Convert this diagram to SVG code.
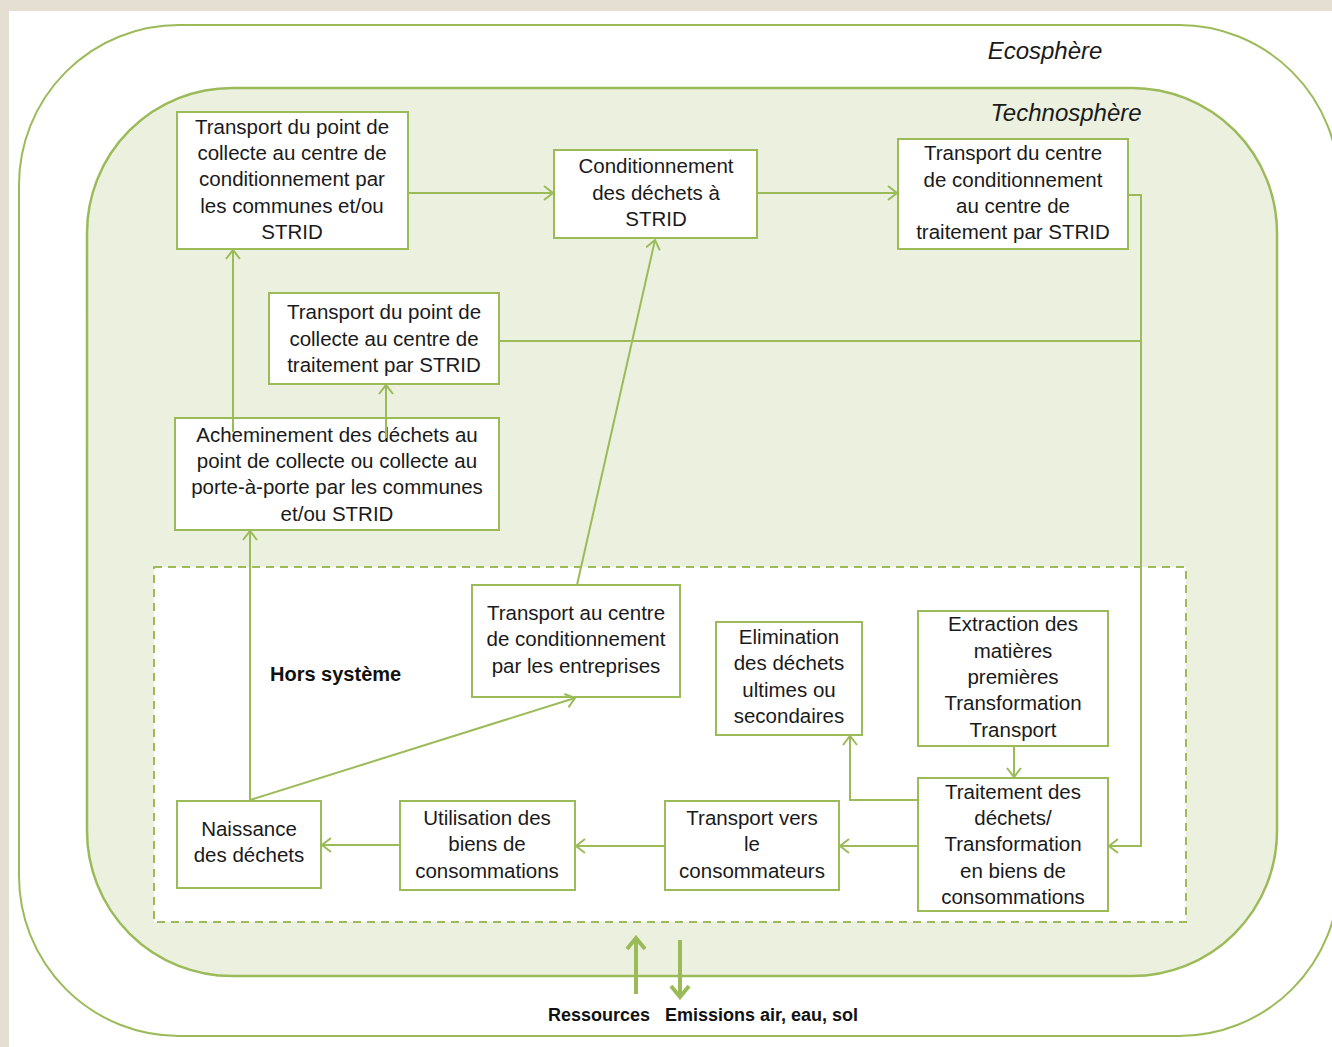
<svg xmlns="http://www.w3.org/2000/svg" width="1332" height="1047" viewBox="0 0 1332 1047">
<defs>
<style>
.box{fill:#ffffff;stroke:#9bbb59;stroke-width:2}
.t{font-family:"Liberation Sans",Arial,sans-serif;font-size:20.5px;fill:#1a1a1a;text-anchor:middle}
.c{fill:none;stroke:#9bbb59;stroke-width:2}
.big{fill:none;stroke:#9bbb59;stroke-width:4}
.lbl{font-family:"Liberation Sans",Arial,sans-serif;font-weight:bold;fill:#111}
.it{font-family:"Liberation Sans",Arial,sans-serif;font-style:italic;font-size:24px;fill:#1a1a1a;text-anchor:middle}
</style>
<marker id="a" markerUnits="userSpaceOnUse" viewBox="0 0 12 16" refX="10" refY="8" markerWidth="12" markerHeight="16" orient="auto">
<path d="M1,1 L10,8 L1,15" fill="none" stroke="#9bbb59" stroke-width="2"/>
</marker>
<marker id="b" markerUnits="userSpaceOnUse" viewBox="0 0 16 22" refX="13" refY="11" markerWidth="16" markerHeight="22" orient="auto">
<path d="M2,2 L13,11 L2,20" fill="none" stroke="#9bbb59" stroke-width="4"/>
</marker>
</defs>
<rect x="0" y="0" width="1332" height="1047" fill="#e4ded3"/>
<rect x="9" y="11" width="1323" height="1036" fill="#ffffff"/>
<g id="ecosphere">
<rect x="19" y="25" width="1320" height="1011" rx="160" ry="160" fill="#ffffff" stroke="#9bbb59" stroke-width="2"/>
<text class="it" x="1045" y="59">Ecosphère</text>
</g>
<g id="technosphere">
<rect x="87" y="88" width="1190" height="888" rx="145" ry="145" fill="#ebf0df" stroke="#9bbb59" stroke-width="2.5"/>
<text class="it" x="1066" y="121">Technosphère</text>
</g>
<g id="hors-systeme">
<rect x="154" y="567" width="1032" height="355" fill="#ffffff" stroke="#9bbb59" stroke-width="2" stroke-dasharray="8,6"/>
<text class="lbl" x="270" y="681" font-size="20">Hors système</text>
</g>
<g id="n1">
<rect class="box" x="177" y="112" width="231" height="137"/>
<text class="t" x="292" y="134">Transport du point de</text>
<text class="t" x="292" y="160">collecte au centre de</text>
<text class="t" x="292" y="186">conditionnement par</text>
<text class="t" x="292" y="213">les communes et/ou</text>
<text class="t" x="292" y="239">STRID</text>
</g>
<g id="n2">
<rect class="box" x="554" y="150" width="203" height="88"/>
<text class="t" x="656" y="173">Conditionnement</text>
<text class="t" x="656" y="200">des déchets à</text>
<text class="t" x="656" y="226">STRID</text>
</g>
<g id="n3">
<rect class="box" x="898" y="139" width="230" height="110"/>
<text class="t" x="1013" y="160">Transport du centre</text>
<text class="t" x="1013" y="187">de conditionnement</text>
<text class="t" x="1013" y="213">au centre de</text>
<text class="t" x="1013" y="239">traitement par STRID</text>
</g>
<g id="n4">
<rect class="box" x="269" y="293" width="230" height="91"/>
<text class="t" x="384" y="319">Transport du point de</text>
<text class="t" x="384" y="346">collecte au centre de</text>
<text class="t" x="384" y="372">traitement par STRID</text>
</g>
<g id="n5">
<rect class="box" x="175" y="418" width="324" height="112"/>
<text class="t" x="337" y="442">Acheminement des déchets au</text>
<text class="t" x="337" y="468">point de collecte ou collecte au</text>
<text class="t" x="337" y="494">porte-à-porte par les communes</text>
<text class="t" x="337" y="521">et/ou STRID</text>
</g>
<g id="n6">
<rect class="box" x="472" y="585" width="208" height="112"/>
<text class="t" x="576" y="620">Transport au centre</text>
<text class="t" x="576" y="646">de conditionnement</text>
<text class="t" x="576" y="673">par les entreprises</text>
</g>
<g id="n7">
<rect class="box" x="716" y="622" width="146" height="113"/>
<text class="t" x="789" y="644">Elimination</text>
<text class="t" x="789" y="670">des déchets</text>
<text class="t" x="789" y="697">ultimes ou</text>
<text class="t" x="789" y="723">secondaires</text>
</g>
<g id="n8">
<rect class="box" x="918" y="611" width="190" height="135"/>
<text class="t" x="1013" y="631">Extraction des</text>
<text class="t" x="1013" y="658">matières</text>
<text class="t" x="1013" y="684">premières</text>
<text class="t" x="1013" y="710">Transformation</text>
<text class="t" x="1013" y="737">Transport</text>
</g>
<g id="n9">
<rect class="box" x="918" y="778" width="190" height="133"/>
<text class="t" x="1013" y="799">Traitement des</text>
<text class="t" x="1013" y="825">déchets/</text>
<text class="t" x="1013" y="851">Transformation</text>
<text class="t" x="1013" y="878">en biens de</text>
<text class="t" x="1013" y="904">consommations</text>
</g>
<g id="n10">
<rect class="box" x="665" y="801" width="174" height="89"/>
<text class="t" x="752" y="825">Transport vers</text>
<text class="t" x="752" y="851">le</text>
<text class="t" x="752" y="878">consommateurs</text>
</g>
<g id="n11">
<rect class="box" x="400" y="801" width="175" height="89"/>
<text class="t" x="487" y="825">Utilisation des</text>
<text class="t" x="487" y="851">biens de</text>
<text class="t" x="487" y="878">consommations</text>
</g>
<g id="n12">
<rect class="box" x="177" y="801" width="144" height="87"/>
<text class="t" x="249" y="836">Naissance</text>
<text class="t" x="249" y="862">des déchets</text>
</g>
<g id="connectors">
<path class="c" d="M408,193 H553" marker-end="url(#a)"/>
<path class="c" d="M757,193 H897" marker-end="url(#a)"/>
<path class="c" d="M1128,195 H1141 V846 H1109" marker-end="url(#a)"/>
<path class="c" d="M499,341 H1141"/>
<path class="c" d="M233,432 V250" marker-end="url(#a)"/>
<path class="c" d="M386,438 V385" marker-end="url(#a)"/>
<path class="c" d="M577,585 L655,240" marker-end="url(#a)"/>
<path class="c" d="M250,800 L575,698" marker-end="url(#a)"/>
<path class="c" d="M250,800 V531" marker-end="url(#a)"/>
<path class="c" d="M400,845 H322" marker-end="url(#a)"/>
<path class="c" d="M665,846 H576" marker-end="url(#a)"/>
<path class="c" d="M918,846 H840" marker-end="url(#a)"/>
<path class="c" d="M918,800 H850 V736" marker-end="url(#a)"/>
<path class="c" d="M1014,746 V777" marker-end="url(#a)"/>
<path class="big" d="M636,994 V938" marker-end="url(#b)"/>
<path class="big" d="M680,940 V997" marker-end="url(#b)"/>
</g>
<g id="io-labels">
<text class="lbl" x="548" y="1021" font-size="18">Ressources</text>
<text class="lbl" x="665" y="1021" font-size="18">Emissions air, eau, sol</text>
</g>
</svg>
